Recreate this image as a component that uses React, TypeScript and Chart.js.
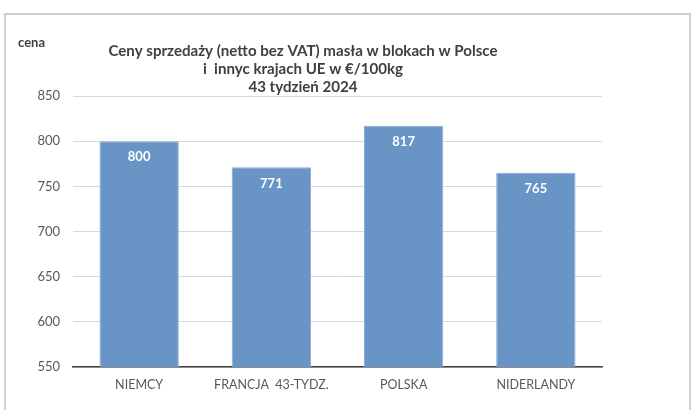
import React, { useEffect, useRef } from "react";
import { Chart, registerables } from "chart.js";

Chart.register(...registerables);

const categories = ["NIEMCY", "FRANCJA  43-TYDZ.", "POLSKA", "NIDERLANDY"];
const prices = [800, 771, 817, 765];
const yTicks = [550, 600, 650, 700, 750, 800, 850];
const titleLines = [
  "Ceny sprzedaży (netto bez VAT) masła w blokach w Polsce",
  "i  innyc krajach UE w €/100kg",
  "43 tydzień 2024",
];
const axisTitle = "cena";

const FONT = "Lato, 'Open Sans', sans-serif";

const overlayPlugin = {
  id: "overlay",
  afterDatasetsDraw(chart: any) {
    const ctx = chart.ctx;
    ctx.save();
    // value labels
    const meta = chart.getDatasetMeta(0);
    ctx.fillStyle = "#ffffff";
    ctx.font = `bold 13px ${FONT}`;
    ctx.textAlign = "center";
    ctx.textBaseline = "middle";
    meta.data.forEach((bar: any, i: number) => {
      ctx.fillText(String(prices[i]), bar.x, bar.y + 16);
    });
    // title
    ctx.fillStyle = "#404040";
    const ref = 389;
    ctx.font = `bold 15px ${FONT}`;
    const w = ctx.measureText(titleLines[0]).width;
    const size = Math.round((15 * ref / w) * 10) / 10;
    ctx.font = `bold ${size}px ${FONT}`;
    const cx = 303;
    const ys = [51, 69, 87];
    titleLines.forEach((t, i) => ctx.fillText(t, cx, ys[i]));
    // axis title
    ctx.textAlign = "left";
    ctx.font = `bold 13px ${FONT}`;
    ctx.fillText(axisTitle, 18, 43);
    ctx.restore();
  },
};

export default function App() {
  const ref = useRef<HTMLCanvasElement | null>(null);
  useEffect(() => {
    if (!ref.current) return;
    const chart = new Chart(ref.current, {
      type: "bar",
      data: {
        labels: categories,
        datasets: [
          {
            data: prices,
            backgroundColor: "#6894c6",
            borderColor: "#86aad6",
            borderWidth: 1,
            barPercentage: 0.6,
            categoryPercentage: 1,
          },
        ],
      },
      options: {
        responsive: false,
        animation: false,
        layout: { padding: { left: 0, right: 94, top: 96, bottom: 0 } },
        plugins: { legend: { display: false }, tooltip: { enabled: false }, title: { display: false } },
        scales: {
          x: {
            grid: { display: false, drawTicks: false },
            border: { display: true, color: "#404040", width: 1.5 },
            ticks: { color: "#595959", font: { family: FONT, size: 12.5 }, padding: 10, autoSkip: false, maxRotation: 0 },
            afterFit: (s: any) => { s.height = 43; },
          },
          y: {
            min: yTicks[0],
            max: yTicks[yTicks.length - 1],
            afterBuildTicks: (s: any) => { s.ticks = yTicks.map((v) => ({ value: v })); },
            grid: { color: "#d9d9d9", lineWidth: 1, drawTicks: false },
            border: { display: false },
            ticks: { color: "#595959", font: { family: FONT, size: 13 }, padding: 13 },
            afterFit: (s: any) => { s.width = 73; },
          },
        },
      },
      plugins: [overlayPlugin],
    });
    return () => chart.destroy();
  }, []);
  return (
    <div style={{ position: "fixed", left: 0, top: 0, width: 696, height: 410, background: "#fff", overflow: "hidden" }}>
      <div style={{ position: "absolute", left: 4, top: 13, width: 687, height: 420, border: "2px solid #cfcfcf", boxSizing: "border-box" }} />
      <canvas ref={ref} width={696} height={410} style={{ position: "absolute", left: 0, top: 0 }} />
    </div>
  );
}
